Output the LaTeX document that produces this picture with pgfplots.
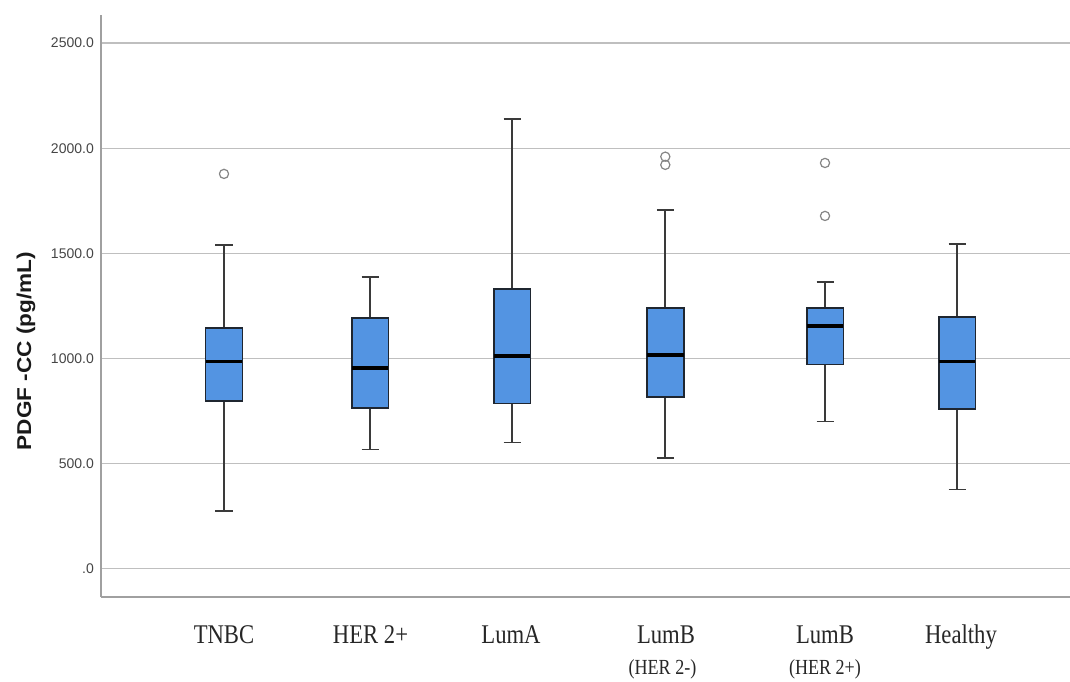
\documentclass[border=0pt]{standalone}
\usepackage{pgfplots}
\pgfplotsset{compat=1.18}
\usepgfplotslibrary{statistics}
\usepackage{fontspec}
\setmainfont{Liberation Sans}
\newfontfamily\xfont[FakeStretch=0.84]{Liberation Serif}
\newfontfamily\ylfont[FakeStretch=1.13]{Liberation Sans}
\definecolor{boxblue}{HTML}{5394E2}
\definecolor{gridgray}{HTML}{BFBFBF}
\definecolor{axisgray}{HTML}{A0A0A0}
\definecolor{ticktext}{HTML}{454545}
\definecolor{boxedge}{HTML}{1F2630}
\definecolor{whisk}{HTML}{3A3A3A}
\definecolor{outl}{HTML}{858585}
\pgfplotsset{mybox/.style={draw=boxedge, line width=1.7bp, fill=boxblue,
  boxplot/draw direction=y,
  mark=o, mark size=4.6bp, mark options={draw=outl, fill=none, line width=1.2bp, solid},
  boxplot/every whisker/.style={/tikz/draw=whisk, /tikz/line width=1.8bp, /tikz/fill=none},
  boxplot/every median/.style={/tikz/draw=black, /tikz/line width=3.3bp, /tikz/fill=none}}}
\begin{document}
\begin{tikzpicture}
\begin{axis}[
  scale only axis, width=969bp, height=582bp,
  xmin=101, xmax=1070, ymin=-135, ymax=2634,
  axis lines*=left,
  axis line style={draw=axisgray, line width=1.4bp, -},
  major tick length=0pt,
  ytick={0,500,1000,1500,2000,2500},
  yticklabels={.0,500.0,1000.0,1500.0,2000.0,2500.0},
  yticklabel style={font=\fontsize{14bp}{16bp}\selectfont, text=ticktext, inner sep=0pt, xshift=-7bp, anchor=east},
  ymajorgrids, grid style={draw=gridgray, line width=1.4bp},
  xtick={224,370.5,511,666,825,961},
  xticklabels={TNBC,HER 2+,LumA,LumB,LumB,Healthy},
  xticklabel style={font=\xfont\fontsize{27bp}{29bp}\selectfont, text=black!85, anchor=base, yshift=-46.3bp},
  extra x ticks={662.5,825},
  extra x tick labels={(HER 2-),(HER 2+)},
  extra x tick style={grid=none, xticklabel style={font=\xfont\fontsize{21.5bp}{23bp}\selectfont, yshift=-30.7bp}},
  ylabel={\ylfont\bfseries PDGF -CC (pg/mL)},
  ylabel style={at={(axis description cs:-0.0774,0.4227)}, anchor=center, font=\fontsize{20bp}{22bp}\selectfont, text=black!90},
]
\coordinate (sw) at (rel axis cs:0,0);
\coordinate (ne) at (rel axis cs:1,1);
\addplot[mybox, boxplot prepared={draw position=224, lower whisker=276, lower quartile=797, median=986, upper quartile=1146, upper whisker=1541, box extend=36.7, whisker extend=17}] coordinates {(224,1878)};
\addplot[mybox, boxplot prepared={draw position=370, lower whisker=567, lower quartile=763, median=954, upper quartile=1192, upper whisker=1389, box extend=36.7, whisker extend=17}] coordinates {};
\addplot[mybox, boxplot prepared={draw position=512, lower whisker=600, lower quartile=786, median=1011, upper quartile=1330, upper whisker=2140, box extend=36.7, whisker extend=17}] coordinates {};
\addplot[mybox, boxplot prepared={draw position=665.3, lower whisker=527, lower quartile=817, median=1016, upper quartile=1240, upper whisker=1708, box extend=36.7, whisker extend=17}] coordinates {(665.3,1960) (665.3,1921)};
\addplot[mybox, boxplot prepared={draw position=825, lower whisker=700, lower quartile=971, median=1154, upper quartile=1241, upper whisker=1362, box extend=36.7, whisker extend=17}] coordinates {(825,1930) (825,1678)};
\addplot[mybox, boxplot prepared={draw position=957, lower whisker=376, lower quartile=760, median=986, upper quartile=1197, upper whisker=1546, box extend=36.7, whisker extend=17}] coordinates {};
\end{axis}
\pgfresetboundingbox
\path ([xshift=-101bp,yshift=-85bp]sw) rectangle ([yshift=15bp]ne);
\end{tikzpicture}
\end{document}
